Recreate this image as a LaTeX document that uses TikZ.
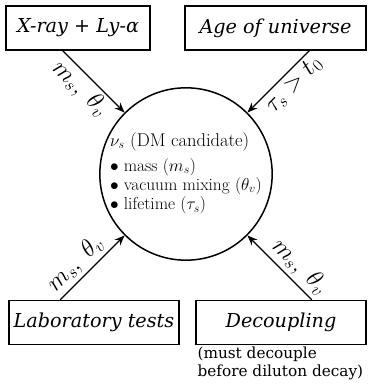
\documentclass[tikz,border=0pt]{standalone}
\usepackage{fontspec}
\usepackage{tikz}
\usetikzlibrary{arrows.meta}
\newfontfamily\boxfont{DejaVu Serif}

\tikzset{
  constraint/.style={draw, line width=1.3pt, font=\boxfont\itshape\fontsize{19.2}{22}\selectfont,
    minimum height=44pt, inner xsep=3pt},
  dm/.style={draw, circle, line width=1.5pt, minimum size=172pt, inner sep=0pt},
  link/.style={line width=1.3pt, -{Stealth[length=10pt,width=8pt]}},
  linklabel/.style={sloped, font=\fontsize{24}{28}\selectfont, inner sep=3pt},
  note/.style={align=left, inner sep=2pt, font=\boxfont\fontsize{15.3}{18}\selectfont}
}

\begin{document}
\begin{tikzpicture}[x=1pt, y=1pt]

%      \pgflowlevel{\pgftransformscale{0.7}}
      \useasboundingbox (0,0) rectangle (371,384);

      \node[dm] (dm) at (186,210) {\fontsize{17.3}{19.3}\selectfont\begin{tabular}{@{}l@{}}
        {\fontsize{18.5}{19.3}\selectfont $\nu_s$ (DM candidate)}\\[5.4pt]
        $\bullet$\hspace{5pt}mass ($m_s$)\\
        $\bullet$\hspace{5pt}vacuum mixing ($\theta_v$)\\
        $\bullet$\hspace{5pt}lifetime ($\tau_s$)
      \end{tabular}};

      \node[constraint, minimum width=144pt] (xray) at (78,356) {X-ray + Ly-α};
      \node[constraint, minimum width=181pt] (age) at (275.5,356) {Age of universe};
      \node[constraint, minimum width=170pt] (lab) at (94,61.5) {Laboratory tests};
      \node[constraint, minimum width=170pt] (dec) at (281,61.5) {Decoupling};
      \node[note, anchor=north west] (decnote) at (dec.south west) {(must decouple\\before diluton decay)};

      \draw[link] (intersection of dm.center--dm.135 and xray.south west--xray.south east)
        -- node[linklabel, below, pos=0.45] {$m_s,\ \theta_v$} (dm.135);
      \draw[link] (intersection of dm.center--dm.45 and age.south west--age.south east)
        -- node[linklabel, below, pos=0.4] {$\tau_s > t_0$} (dm.45);
      \draw[link] (intersection of dm.center--dm.225 and lab.north west--lab.north east)
        -- node[linklabel, above, pos=0.4] {$m_s,\ \theta_v$} (dm.225);
      \draw[link] (intersection of dm.center--dm.315 and dec.north west--dec.north east)
        -- node[linklabel, above, pos=0.35] {$m_s,\ \theta_v$} (dm.315);
\end{tikzpicture}
\end{document}
